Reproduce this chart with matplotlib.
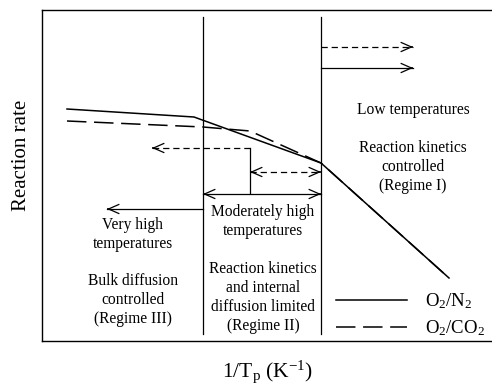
import matplotlib
matplotlib.use("Agg")
import matplotlib.pyplot as plt

# Schematic coordinates (arbitrary units): x = 1/Tp, y = reaction rate
inv_T_n2 = [25, 152, 279, 407]
rate_n2 = [232, 224, 178, 63]
inv_T_co2 = [25, 161, 208, 279, 407]
rate_co2 = [220, 214, 210, 178, 63]

regime_bounds = [161, 279]
bound_span = [7, 324]
marker_x = 208
marker_span = [148, 193]

# (tail_x, head_x, y, double_headed, dashed)
arrow_tail_x = [208, 208, 161, 161, 279, 279]
arrow_head_x = [110, 279, 279, 65, 371, 371]
arrow_y = [193, 169, 147, 132, 294, 273]
arrow_double = [False, True, True, False, False, False]
arrow_dashed = [True, True, False, False, True, False]

regime_text = [
    "Very high\ntemperatures\n\nBulk diffusion\ncontrolled\n(Regime III)",
    "Moderately high\ntemperatures\n\nReaction kinetics\nand internal\ndiffusion limited\n(Regime II)",
    "Low temperatures\n\nReaction kinetics\ncontrolled\n(Regime I)",
]
regime_text_x = [91, 221, 371]
regime_text_y = [69, 72, 193]

plt.rcParams["font.family"] = ["Liberation Serif", "DejaVu Serif"]
plt.rcParams["mathtext.fontset"] = "custom"
plt.rcParams["mathtext.rm"] = "Liberation Serif"
plt.rcParams["lines.scale_dashes"] = False

W, H = 492, 385
fig = plt.figure(figsize=(W / 100, H / 100), dpi=100)
ax = fig.add_axes([42 / W, 44 / H, 450 / W, 331 / H])
ax.set_xlim(0, 450)
ax.set_ylim(0, 331)
ax.set_xticks([])
ax.set_yticks([])
ax.spines["right"].set_visible(False)
for s in ["left", "top", "bottom"]:
    ax.spines[s].set_linewidth(1.0)

long_dash = (14, 5.5)
short_dash = (4.5, 2.8)

ax.plot(inv_T_n2, rate_n2, color="black", lw=1.1, label=r"O$\mathregular{_2}$/N$\mathregular{_2}$")
ax.plot(inv_T_co2, rate_co2, color="black", lw=1.1, dashes=long_dash,
        label=r"O$\mathregular{_2}$/CO$\mathregular{_2}$")

for xb in regime_bounds:
    ax.plot([xb, xb], bound_span, color="black", lw=0.9)
ax.plot([marker_x, marker_x], marker_span, color="black", lw=0.9)

head = dict(arrowstyle="->, head_length=0.75, head_width=0.33",
            color="black", lw=0.9, mutation_scale=10, shrinkA=0, shrinkB=0)


def draw_head(x_from, x_to, y):
    # short solid stub so the arrowhead itself is never broken by dashes
    step = 1.0 if x_to > x_from else -1.0
    ax.annotate("", xy=(x_to, y), xytext=(x_to - step, y), arrowprops=head)


for xt, xh, y, dbl, dsh in zip(arrow_tail_x, arrow_head_x, arrow_y,
                               arrow_double, arrow_dashed):
    if dsh:
        ax.plot([xt, xh], [y, y], color="black", lw=0.9, dashes=short_dash)
    else:
        ax.plot([xt, xh], [y, y], color="black", lw=0.9)
    draw_head(xt, xh, y)
    if dbl:
        draw_head(xh, xt, y)

for txt, tx, ty in zip(regime_text, regime_text_x, regime_text_y):
    ax.text(tx, ty, txt, ha="center", va="center", fontsize=11.2,
            linespacing=1.24)

ax.legend(loc="lower left", bbox_to_anchor=(336 / W, (H - 338) / H),
          bbox_transform=fig.transFigure, frameon=False, fontsize=13.5,
          handlelength=3.8, handletextpad=0.95, labelspacing=0.4,
          borderpad=0, borderaxespad=0)

fig.text(22 / W, (H - 155) / H, "Reaction rate", rotation=90,
         ha="center", va="center", fontsize=15)
fig.text(268 / W, (H - 377) / H, r"1/T$\mathregular{_p}$ (K$\mathregular{^{-1}}$)",
         ha="center", va="baseline", fontsize=15.5)

fig.savefig("out.png", dpi=100)
